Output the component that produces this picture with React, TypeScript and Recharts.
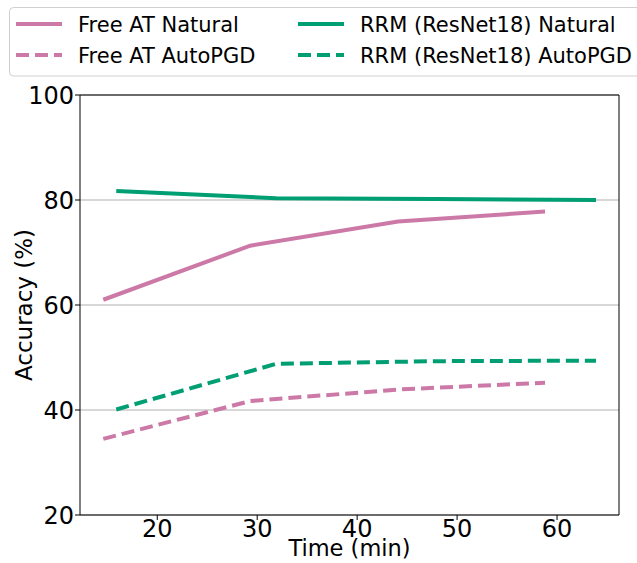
import { LineChart, Line, XAxis, YAxis, CartesianGrid, Legend, ReferenceLine, Label } from "recharts";

const PINK = "#CC79A7";
const GREEN = "#009E73";

// minutes of training
const freeTime = [14.6, 29.3, 44.1, 58.8];
const rrmTime = [15.9, 31.9, 47.9, 63.9];

// accuracy (%)
const freeNatural = [61.0, 71.3, 75.9, 77.8];
const freeAutoPgd = [34.5, 41.7, 43.9, 45.2];
const rrmNatural = [81.7, 80.35, 80.2, 80.0];
const rrmAutoPgd = [40.1, 48.8, 49.3, 49.4];

const xTicks = [20, 30, 40, 50, 60];
const yTicks = [20, 40, 60, 80, 100];
const xDomain = [12.27, 66.2];

const zip = (xs: number[], ys: number[]) => xs.map((x, i) => ({ x, y: ys[i] }));

// legend order follows matplotlib's column-wise fill
const SERIES = [
  { name: "Free AT Natural", color: PINK, dashed: false, data: zip(freeTime, freeNatural) },
  { name: "Free AT AutoPGD", color: PINK, dashed: true, data: zip(freeTime, freeAutoPgd) },
  { name: "RRM (ResNet18) Natural", color: GREEN, dashed: false, data: zip(rrmTime, rrmNatural) },
  { name: "RRM (ResNet18) AutoPGD", color: GREEN, dashed: true, data: zip(rrmTime, rrmAutoPgd) },
];

const FONT = "'DejaVu Sans', sans-serif";
const DASH = "13 6";

function LegendBox() {
  const colX = [16, 298];
  const rowY = [24, 55];
  return (
    <svg width={637} height={80} style={{ display: "block" }}>
      <rect x={9.5} y={7.5} width={640} height={68.5} rx={4} fill="white" stroke="#d0d0d0" />
      {SERIES.map((s, i) => {
        const cx = colX[Math.floor(i / 2)];
        const cy = rowY[i % 2];
        return (
          <g key={s.name}>
            <line x1={cx} x2={cx + 46} y1={cy} y2={cy} stroke={s.color} strokeWidth={4}
              strokeDasharray={s.dashed ? DASH : undefined} />
            <text x={cx + 62} y={cy + 8} fontSize={21} fontFamily={FONT} fill="#000">{s.name}</text>
          </g>
        );
      })}
    </svg>
  );
}

export default function App() {
  return (
    <div style={{ position: "absolute", left: 0, top: 0, width: 637, height: 563, overflow: "hidden", background: "white" }}>
      <LineChart width={637} height={563} margin={{ top: 95, right: 18, left: 0, bottom: 0 }}>
        <CartesianGrid vertical={false} stroke="#b0b0b0" />
        <XAxis
          type="number"
          dataKey="x"
          domain={xDomain}
          ticks={xTicks}
          allowDataOverflow
          height={48}
          tickSize={5}
          tickMargin={0}
          tick={{ fontSize: 24, fill: "#000", fontFamily: FONT }}
          tickLine={{ stroke: "#000" }}
          axisLine={{ stroke: "#000" }}
        >
          <Label
            content={(p: any) => (
              <text x={p.viewBox.x + p.viewBox.width / 2} y={556} textAnchor="middle"
                fontSize={22.5} fontFamily={FONT} fill="#000">Time (min)</text>
            )}
          />
        </XAxis>
        <YAxis
          type="number"
          domain={[20, 100]}
          ticks={yTicks}
          width={80}
          tickSize={5}
          tickMargin={1}
          tick={{ fontSize: 24, fill: "#000", fontFamily: FONT }}
          tickLine={{ stroke: "#000" }}
          axisLine={{ stroke: "#000" }}
        >
          <Label
            content={(p: any) => {
              const cy = p.viewBox.y + p.viewBox.height / 2;
              return (
                <text x={32} y={cy} transform={`rotate(-90 32 ${cy})`} textAnchor="middle"
                  fontSize={23} fontFamily={FONT} fill="#000">Accuracy (%)</text>
              );
            }}
          />
        </YAxis>
        <ReferenceLine y={100} stroke="#000" />
        <ReferenceLine x={xDomain[1]} stroke="#000" />
        {SERIES.map((s) => (
          <Line
            key={s.name}
            data={s.data}
            dataKey="y"
            name={s.name}
            type="linear"
            stroke={s.color}
            strokeWidth={4}
            strokeDasharray={s.dashed ? DASH : undefined}
            dot={false}
            activeDot={false}
            isAnimationActive={false}
          />
        ))}
        <Legend
          layout="horizontal"
          verticalAlign="middle"
          wrapperStyle={{ top: 0, left: 0, width: 637, height: 80 }}
          content={() => <LegendBox />}
        />
      </LineChart>
    </div>
  );
}
